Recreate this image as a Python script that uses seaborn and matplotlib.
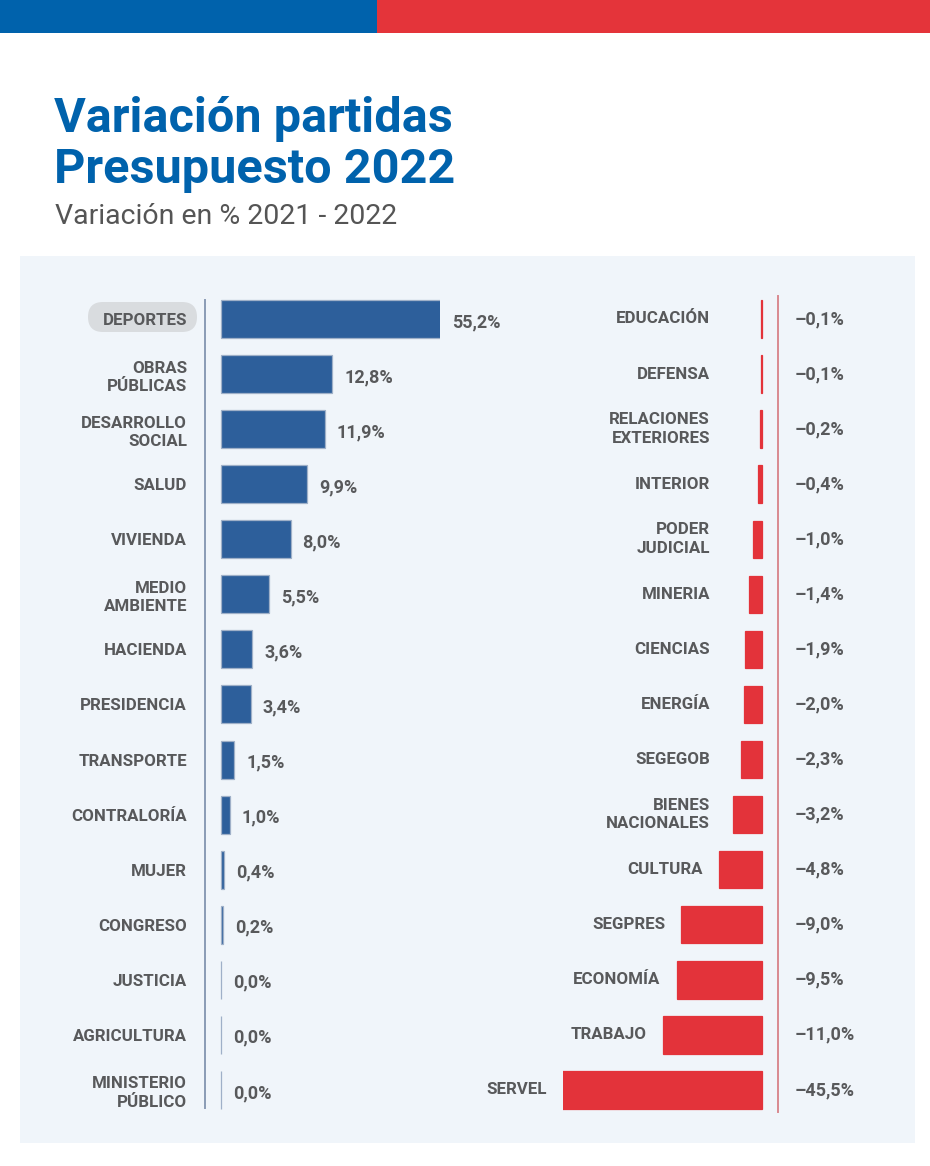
import matplotlib
matplotlib.use("Agg")
import matplotlib.pyplot as plt
import matplotlib.transforms as mtransforms
from matplotlib.patches import Rectangle, FancyBboxPatch
import seaborn as sns
import pandas as pd

# ---------------- data ----------------
pos_categories = ["DEPORTES", "OBRAS\nPÚBLICAS", "DESARROLLO\nSOCIAL", "SALUD", "VIVIENDA",
                  "MEDIO\nAMBIENTE", "HACIENDA", "PRESIDENCIA", "TRANSPORTE", "CONTRALORÍA",
                  "MUJER", "CONGRESO", "JUSTICIA", "AGRICULTURA", "MINISTERIO\nPÚBLICO"]
pos_values = [55.2, 12.8, 11.9, 9.9, 8.0, 5.5, 3.6, 3.4, 1.5, 1.0, 0.4, 0.2, 0.0, 0.0, 0.0]

neg_categories = ["EDUCACIÓN", "DEFENSA", "RELACIONES\nEXTERIORES", "INTERIOR", "PODER\nJUDICIAL",
                  "MINERIA", "CIENCIAS", "ENERGÍA", "SEGEGOB", "BIENES\nNACIONALES",
                  "CULTURA", "SEGPRES", "ECONOMÍA", "TRABAJO", "SERVEL"]
neg_values = [-0.1, -0.1, -0.2, -0.4, -1.0, -1.4, -1.9, -2.0, -2.3, -3.2,
              -4.8, -9.0, -9.5, -11.0, -45.5]

title_lines = ["Variación partidas", "Presupuesto 2022"]
subtitle = "Variación en % 2021 - 2022"


def fmt(v):
    s = f"{v:.1f}".replace(".", ",")
    if v < 0:
        s = "–" + s[1:]
    return s + "%"


# ---------------- style ----------------
sns.set_style("white")
FONT = ["Roboto", "DejaVu Sans"]
plt.rcParams["font.family"] = FONT

W, H = 930, 1166
fig = plt.figure(figsize=(W / 100, H / 100), dpi=100)

BLUE_BAND = "#0062AC"
RED_BAND = "#E4343A"
PANEL = "#F0F5FA"
TITLE_BLUE = "#0062AC"
GRAY = "#58595B"
BAR_BLUE = "#2D5F9B"
BAR_RED = "#E3333A"
LBL = 12.2
LS = 1.3

# background / decorations axis in pixel coordinates
bg = fig.add_axes([0, 0, 1, 1])
bg.set_xlim(0, W)
bg.set_ylim(H, 0)
bg.axis("off")
bg.add_patch(Rectangle((0, 0), 377, 33, color=BLUE_BAND, lw=0))
bg.add_patch(Rectangle((377, 0), W - 377, 33, color=RED_BAND, lw=0))
bg.add_patch(Rectangle((20, 256), 895, 887, color=PANEL, lw=0))
bg.add_patch(FancyBboxPatch((88, 302), 109, 30,
                            boxstyle="round,pad=0,rounding_size=15",
                            color="#D9DCDF", lw=0))

bg.text(54, 132, title_lines[0], fontsize=35, fontweight="bold", color=TITLE_BLUE,
        va="baseline", ha="left")
bg.text(54, 183, title_lines[1], fontsize=35, fontweight="bold", color=TITLE_BLUE,
        va="baseline", ha="left")
bg.text(55, 224, subtitle, fontsize=20.5, color="#555555", va="baseline", ha="left")

# common vertical geometry
row0, row_step = 319.0, 55.07
ax_top = row0 - row_step / 2
ax_h = row_step * 15
y_frac = (H - (ax_top + ax_h)) / H
h_frac = ax_h / H

# ---------------- left (positive) ----------------
pxl = 8.7  # pixels per percent
l_left, l_right, l_zero = 205, 440, 221
axl = fig.add_axes([l_left / W, y_frac, (l_right - l_left) / W, h_frac])
axl.patch.set_alpha(0)
df_pos = pd.DataFrame({"cat": pos_categories, "val": pos_values})
sns.barplot(data=df_pos, x="val", y="cat", orient="h", color=BAR_BLUE, saturation=1,
            width=0.69, edgecolor="#9FB0C8", linewidth=0.9, ax=axl)
xmin_l = -(l_zero - l_left) / pxl
xmax_l = (l_right - l_zero) / pxl
axl.set_xlim(xmin_l, xmax_l)
axl.set_ylim(14.5, -0.5)
axl.set_xlabel("")
axl.set_ylabel("")
axl.set_xticks([])
axl.set_yticks(range(len(pos_categories)))
axl.set_yticklabels(pos_categories, fontsize=LBL, fontweight="bold", color=GRAY,
                    linespacing=LS)
axl.tick_params(axis="y", length=0, pad=13)
for s in ["top", "right", "bottom"]:
    axl.spines[s].set_visible(False)
axl.spines["left"].set_color("#8A9BB5")
axl.spines["left"].set_linewidth(1.4)
axl.spines["left"].set_bounds(14.33, -0.35)
for i, v in enumerate(pos_values):
    axl.annotate(fmt(v), xy=(min(v, xmax_l), i), xytext=(12, -3),
                 textcoords="offset pixels", ha="left", va="center",
                 fontsize=13, fontweight="bold", color=GRAY, annotation_clip=False)

# ---------------- right (negative) ----------------
pxr = 9.0
r_left, r_right, r_zero = 563, 778, 762
axr = fig.add_axes([r_left / W, y_frac, (r_right - r_left) / W, h_frac])
axr.patch.set_alpha(0)
df_neg = pd.DataFrame({"cat": neg_categories, "val": neg_values})
sns.barplot(data=df_neg, x="val", y="cat", orient="h", color=BAR_RED, saturation=1,
            width=0.68, edgecolor=BAR_RED, linewidth=0.9, ax=axr)
xmin_r = -(r_zero - r_left) / pxr
xmax_r = (r_right - r_zero) / pxr
axr.set_xlim(xmin_r, xmax_r)
axr.set_ylim(14.5, -0.5)
axr.set_xlabel("")
axr.set_ylabel("")
axr.set_xticks([])
axr.set_yticks([])
for s in ["top", "left", "bottom"]:
    axr.spines[s].set_visible(False)
axr.spines["right"].set_color("#D98A90")
axr.spines["right"].set_linewidth(1.4)
axr.spines["right"].set_bounds(14.4, -0.42)
blend = mtransforms.blended_transform_factory(axr.transAxes, axr.transData)
label_cap = -4.0
for i, (c, v) in enumerate(zip(neg_categories, neg_values)):
    anchor = min(max(v, xmin_r), label_cap)
    axr.annotate(c, xy=(anchor, i), xytext=(-16, 0), textcoords="offset pixels",
                 ha="right", va="center", multialignment="right", linespacing=LS,
                 fontsize=LBL, fontweight="bold", color=GRAY, annotation_clip=False)
    axr.annotate(fmt(v), xy=(1, i), xycoords=blend, xytext=(17, 0),
                 textcoords="offset pixels", ha="left", va="center",
                 fontsize=13, fontweight="bold", color=GRAY, annotation_clip=False)

fig.savefig("out.png", dpi=100)
